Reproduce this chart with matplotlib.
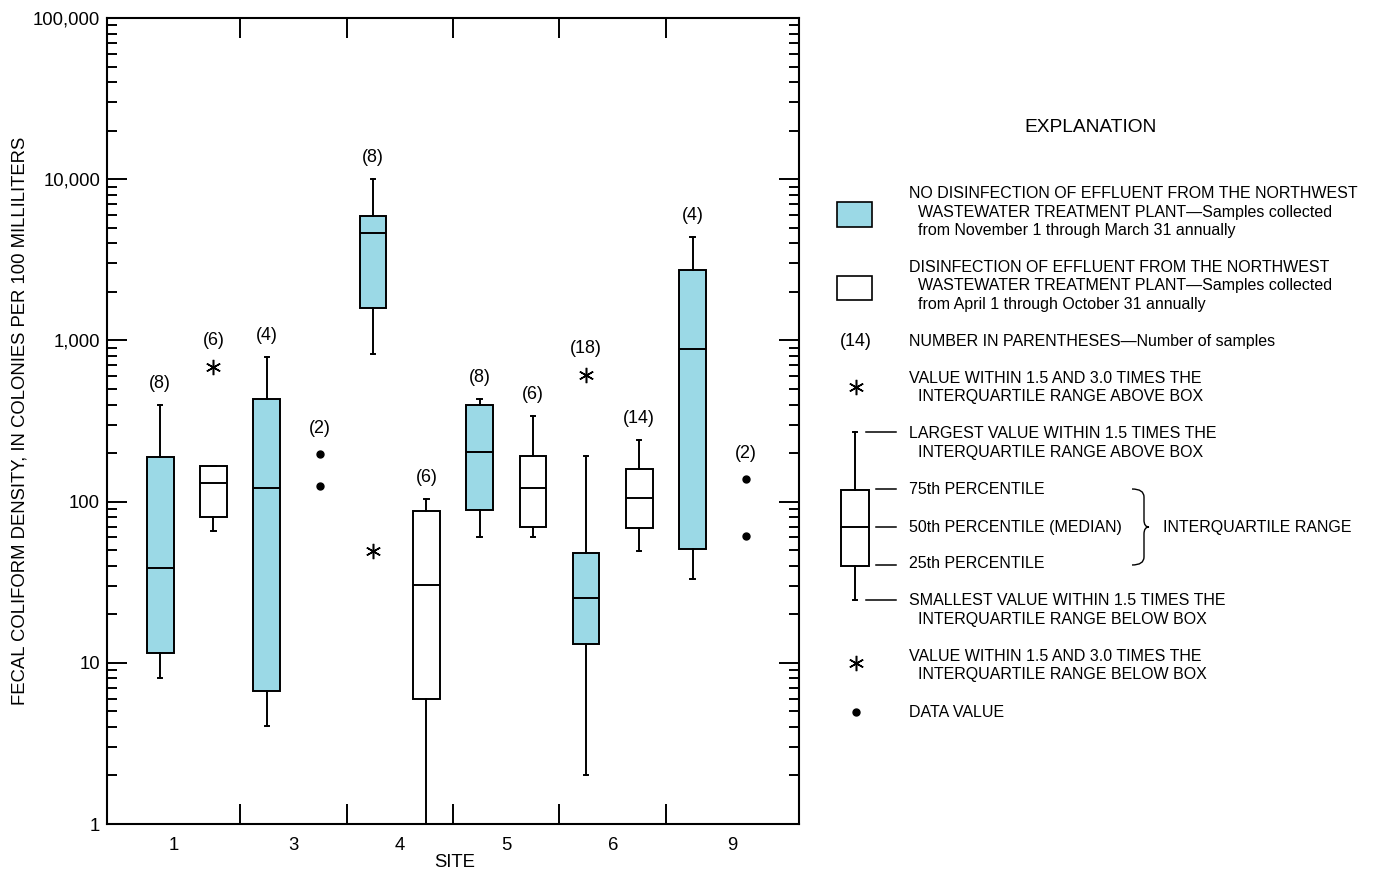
import matplotlib
matplotlib.use("Agg")
import matplotlib.pyplot as plt
from matplotlib.path import Path
from matplotlib.patches import PathPatch, Rectangle
import numpy as np

plt.rcParams['font.family'] = ['Liberation Sans', 'DejaVu Sans']

# ---------------- data ----------------
site_labels = ['1', '3', '4', '5', '6', '9']

# No disinfection (Nov 1 - Mar 31), shaded boxes, one per site
nodis_whislo = [8.0, 4.05, 827, 60.3, 2.0, 33.1]
nodis_q1 = [11.5, 6.7, 1596, 88.3, 13.0, 50.8]
nodis_med = [38.6, 122, 4615, 204, 25.3, 884]
nodis_q3 = [188, 435, 5890, 399, 48, 2746]
nodis_whishi = [399, 792, 10000, 431, 192, 4360]
nodis_n = [8, 4, 8, 8, 18, 4]
nodis_outliers = [[], [], [49.6], [], [610], []]

# Disinfection (Apr 1 - Oct 31), open boxes; sites 3 and 9 only data values
dis_box_sites = ['1', '4', '5', '6']
dis_whislo = [66, 0.5, 60.3, 49.2]
dis_q1 = [80.6, 6.0, 69.9, 68.3]
dis_med = [130, 30.3, 121, 106]
dis_q3 = [166, 87, 192, 160]
dis_whishi = [166, 104, 341, 240]
dis_n = [6, 6, 6, 14]
dis_outliers = [[687], [], [], []]
dis_point_sites = ['3', '9']
dis_point_values = [[198, 125.6], [139, 61.2]]
dis_point_n = [2, 2]

y_ticks = [1, 10, 100, 1000, 10000, 100000]
y_ticklabels = ['1', '10', '100', '1,000', '10,000', '100,000']

BLUE = '#9bd9e6'
LW = 1.4
FS_AX = 13.3
FS_CNT = 12.9
FS_LG = 11.5

# ---------------- figure ----------------
W, H = 1373, 872
fig = plt.figure(figsize=(W / 100, H / 100), dpi=100)
L, R, T, B = 107, 799, 18, 824
ax = fig.add_axes([L / W, 1 - B / H, (R - L) / W, (B - T) / H])

def pos_nodis(site):
    return 2 * site_labels.index(site) + 1

def pos_dis(site):
    return 2 * site_labels.index(site) + 2

nodis_stats = [dict(whislo=a, q1=b, med=c, q3=d, whishi=e, fliers=[])
               for a, b, c, d, e in zip(nodis_whislo, nodis_q1, nodis_med, nodis_q3, nodis_whishi)]
dis_stats = [dict(whislo=a, q1=b, med=c, q3=d, whishi=e, fliers=[])
             for a, b, c, d, e in zip(dis_whislo, dis_q1, dis_med, dis_q3, dis_whishi)]

common = dict(widths=0.5, patch_artist=True, showfliers=False, manage_ticks=False,
              medianprops=dict(color='black', lw=LW),
              whiskerprops=dict(color='black', lw=LW),
              capprops=dict(color='black', lw=LW), capwidths=0.08)
ax.bxp(nodis_stats, positions=[pos_nodis(s) for s in site_labels],
       boxprops=dict(facecolor=BLUE, edgecolor='black', lw=LW), **common)
ax.bxp(dis_stats, positions=[pos_dis(s) for s in dis_box_sites],
       boxprops=dict(facecolor='white', edgecolor='black', lw=LW), **common)

ast_kw = dict(marker=(6, 2, 0), ms=11, mew=1.1, color='black', ls='none')
for s, outs in zip(site_labels, nodis_outliers):
    if outs:
        ax.plot([pos_nodis(s)] * len(outs), outs, **ast_kw)
for s, outs in zip(dis_box_sites, dis_outliers):
    if outs:
        ax.plot([pos_dis(s)] * len(outs), outs, **ast_kw)
for s, vals in zip(dis_point_sites, dis_point_values):
    ax.plot([pos_dis(s)] * len(vals), vals, 'o', color='black', ms=5)

# count labels
def count_label(x, ytop, n, pts):
    ax.annotate(f'({n})', (x, ytop), xytext=(0, pts), textcoords='offset points',
                ha='center', va='center', fontsize=FS_CNT)

for s, n, hi, outs in zip(site_labels, nodis_n, nodis_whishi, nodis_outliers):
    top = max([hi] + outs)
    count_label(pos_nodis(s), top, n, 19 if top != hi else 15.5)
for s, n, hi, outs in zip(dis_box_sites, dis_n, dis_whishi, dis_outliers):
    top = max([hi] + outs)
    count_label(pos_dis(s), top, n, 19 if top != hi else 15.5)
for s, n, vals in zip(dis_point_sites, dis_point_n, dis_point_values):
    count_label(pos_dis(s), max(vals), n, 18)

# axes
n = len(site_labels)
ax.set_yscale('log')
ax.set_ylim(1, 100000)
ax.set_xlim(0, 2 * n + 1)
ax.set_yticks(y_ticks)
ax.set_yticklabels(y_ticklabels, fontsize=FS_AX)
ax.yaxis.set_minor_locator(matplotlib.ticker.LogLocator(base=10, subs=np.arange(2, 10)))
ax.yaxis.set_minor_formatter(matplotlib.ticker.NullFormatter())
ax.tick_params(axis='y', which='major', direction='in', length=14.5, width=LW,
               left=True, right=True, pad=5)
ax.tick_params(axis='y', which='minor', direction='in', length=7.2, width=LW,
               left=True, right=True)
ax.set_xticks([2 * i + 0.5 for i in range(1, n)])
ax.set_xticklabels([''] * (n - 1))
label_pos = [1.25] + [2 * i + 1.5 for i in range(1, n - 1)] + [2 * n - 0.25]
ax.set_xticks(label_pos, minor=True)
ax.set_xticklabels(site_labels, minor=True, fontsize=FS_AX)
ax.tick_params(axis='x', which='major', direction='in', length=14.5, width=LW,
               top=True, bottom=True)
ax.tick_params(axis='x', which='minor', length=0, pad=9)
for sp in ax.spines.values():
    sp.set_linewidth(1.5)

fig.text(20 / W, 1 - 421 / H, 'FECAL COLIFORM DENSITY, IN COLONIES PER 100 MILLILITERS',
         rotation=90, ha='center', va='center', fontsize=FS_AX)
fig.text(455 / W, 1 - 862 / H, 'SITE', ha='center', va='center', fontsize=FS_AX)

# ---------------- explanation ----------------
lg = fig.add_axes([0, 0, 1, 1])
lg.set_xlim(0, W)
lg.set_ylim(H, 0)
lg.axis('off')
lg.patch.set_alpha(0)

def t(x, y, s, **kw):
    fs = kw.pop('fontsize', FS_LG)
    lg.text(x, y, s, ha=kw.pop('ha', 'left'), va='center', fontsize=fs, **kw)

t(1091, 127, 'EXPLANATION', ha='center', fontsize=13.8)
TX, TX2 = 909, 918
lg.add_patch(Rectangle((837, 202), 35, 25, facecolor=BLUE, edgecolor='black', lw=1.2))
t(TX, 193, 'NO DISINFECTION OF EFFLUENT FROM THE NORTHWEST')
t(TX2, 212, 'WASTEWATER TREATMENT PLANT\u2014Samples collected')
t(TX2, 230, 'from November 1 through March 31 annually')
lg.add_patch(Rectangle((837, 276), 35, 24, facecolor='white', edgecolor='black', lw=1.2))
t(TX, 267, 'DISINFECTION OF EFFLUENT FROM THE NORTHWEST')
t(TX2, 285, 'WASTEWATER TREATMENT PLANT\u2014Samples collected')
t(TX2, 304, 'from April 1 through October 31 annually')
t(856, 341, '(14)', ha='center', fontsize=FS_CNT)
t(TX, 341, 'NUMBER IN PARENTHESES\u2014Number of samples')
lg.plot([856], [387], **ast_kw)
t(TX, 378, 'VALUE WITHIN 1.5 AND 3.0 TIMES THE')
t(TX2, 396, 'INTERQUARTILE RANGE ABOVE BOX')

# schematic box
bx = 855
lg.plot([bx, bx], [432, 490], color='black', lw=LW)
lg.plot([bx, bx], [566, 600], color='black', lw=LW)
lg.plot([bx - 2, bx + 2], [432, 432], color='black', lw=LW)
lg.plot([bx - 2, bx + 2], [600, 600], color='black', lw=LW)
lg.add_patch(Rectangle((841, 490), 28, 76, facecolor='white', edgecolor='black', lw=LW))
lg.plot([841, 869], [527, 527], color='black', lw=LW)
for x0, y0 in [(866, 432), (876, 489), (876, 527), (876, 565), (866, 600)]:
    lg.plot([x0, 896], [y0, y0], color='black', lw=1.1)
t(TX, 433, 'LARGEST VALUE WITHIN 1.5 TIMES THE')
t(TX2, 452, 'INTERQUARTILE RANGE ABOVE BOX')
t(TX, 489, '75th PERCENTILE')
t(TX, 527, '50th PERCENTILE (MEDIAN)')
t(TX, 563, '25th PERCENTILE')
t(TX, 600, 'SMALLEST VALUE WITHIN 1.5 TIMES THE')
t(TX2, 619, 'INTERQUARTILE RANGE BELOW BOX')

# brace
verts = [(1132, 489), (1144, 489), (1144, 497),
         (1144, 520),
         (1144, 527), (1149, 527),
         (1144, 527), (1144, 534),
         (1144, 557),
         (1144, 565), (1132, 565)]
codes = [Path.MOVETO, Path.CURVE3, Path.CURVE3, Path.LINETO,
         Path.CURVE3, Path.CURVE3, Path.CURVE3, Path.CURVE3,
         Path.LINETO, Path.CURVE3, Path.CURVE3]
lg.add_patch(PathPatch(Path(verts, codes), facecolor='none', edgecolor='black', lw=1.0))
t(1163, 527, 'INTERQUARTILE RANGE')

lg.plot([856], [663], **ast_kw)
t(TX, 656, 'VALUE WITHIN 1.5 AND 3.0 TIMES THE')
t(TX2, 674, 'INTERQUARTILE RANGE BELOW BOX')
lg.plot([856], [712], 'o', color='black', ms=5)
t(TX, 712, 'DATA VALUE')

fig.savefig('out.png', dpi=100)
